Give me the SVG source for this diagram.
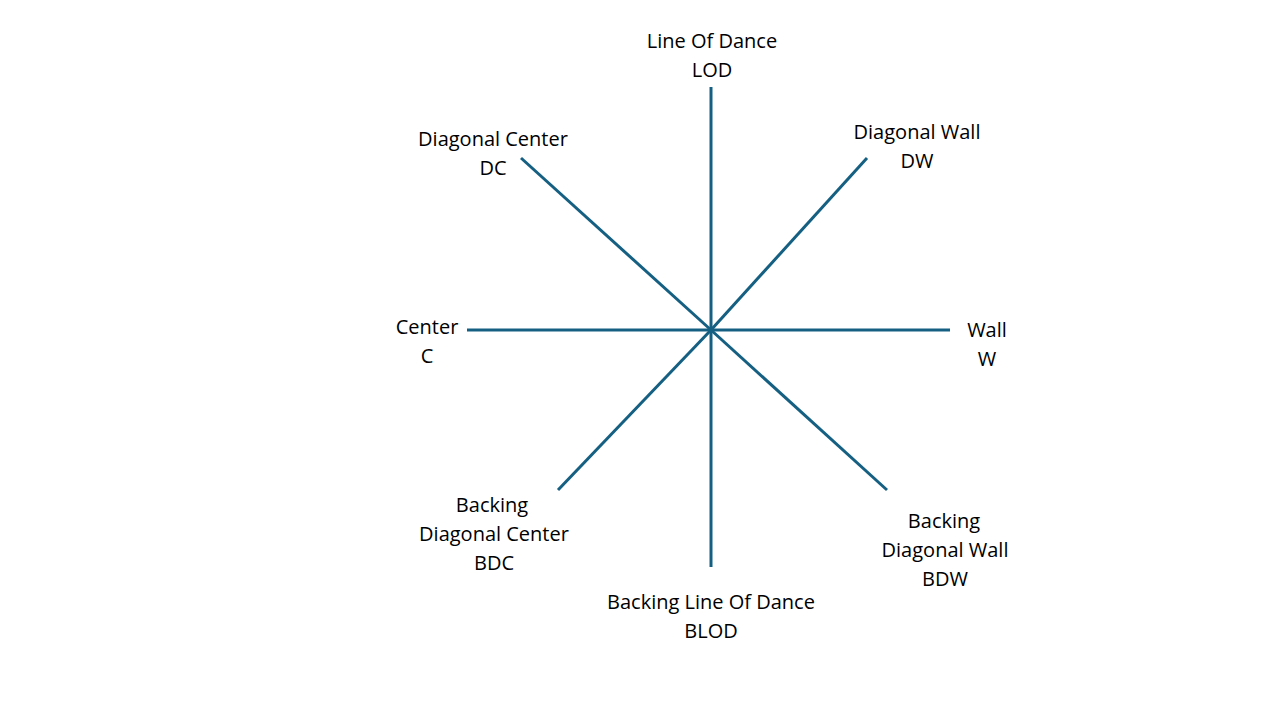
<svg xmlns="http://www.w3.org/2000/svg" width="1280" height="720" viewBox="0 0 1280 720">
<style>
.l{stroke:#156082;stroke-width:3;fill:none}
text{font-family:"Open Sans","Liberation Sans",sans-serif;font-size:20px;fill:#000;text-anchor:middle}
</style>
<rect width="1280" height="720" fill="#fff"/>
<g id="connectors">
<line class="l" x1="711" y1="87" x2="711" y2="567"/>
<line class="l" x1="467" y1="330" x2="950" y2="330"/>
<line class="l" x1="521" y1="158" x2="711" y2="330"/>
<line class="l" x1="867" y1="158" x2="711" y2="330"/>
<line class="l" x1="558" y1="490" x2="711" y2="330"/>
<line class="l" x1="887" y1="490" x2="711" y2="330"/>
</g>
<g id="lod"><text x="712" y="48">Line Of Dance</text><text x="712" y="77">LOD</text></g>
<g id="dc"><text x="493" y="146">Diagonal Center</text><text x="493" y="175">DC</text></g>
<g id="dw"><text x="917" y="139">Diagonal Wall</text><text x="917" y="168">DW</text></g>
<g id="c"><text x="427" y="334">Center</text><text x="427" y="363">C</text></g>
<g id="w"><text x="987" y="337">Wall</text><text x="987" y="366">W</text></g>
<g id="bdc"><text x="492" y="512">Backing</text><text x="494" y="541">Diagonal Center</text><text x="494" y="570">BDC</text></g>
<g id="bdw"><text x="944" y="528">Backing</text><text x="945" y="557">Diagonal Wall</text><text x="945" y="586">BDW</text></g>
<g id="blod"><text x="711" y="609">Backing Line Of Dance</text><text x="711" y="638">BLOD</text></g>
</svg>
